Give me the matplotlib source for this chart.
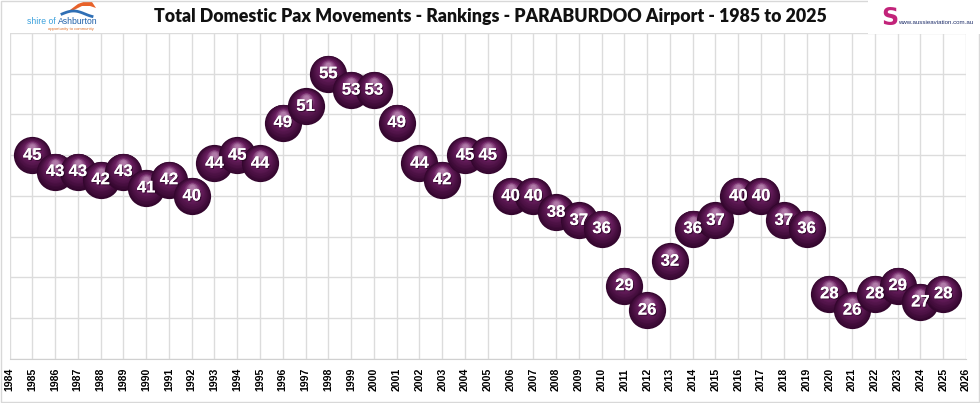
import numpy as np
import matplotlib.pyplot as plt
import matplotlib.transforms as mtransforms
import matplotlib.patheffects as pe
from matplotlib.colors import to_rgb

years = list(range(1985, 2026))
ranks = [45, 43, 43, 42, 43, 41, 42, 40, 44, 45, 44, 49, 51, 55, 53, 53, 49, 44, 42, 45,
         45, 40, 40, 38, 37, 36, 29, 26, 32, 36, 37, 40, 40, 37, 36, 28, 26, 28, 29, 27, 28]
tick_years = list(range(1984, 2027))

title = "Total Domestic Pax Movements - Rankings - PARABURDOO Airport - 1985 to 2025"

plt.rcParams['font.family'] = ['Liberation Sans', 'DejaVu Sans']

W, H = 980, 403
fig = plt.figure(figsize=(9.8, 4.03), dpi=100)
ax = fig.add_axes([0.0097, 0.1092, 0.9760, 0.8090])

ax.set_xlim(1984, 2026)
ax.set_ylim(20, 60)
ax.set_xticks(tick_years)
ax.set_xticklabels([str(y) for y in tick_years], rotation=90, fontsize=7.6, fontweight='bold')
ax.set_yticks(np.arange(20, 61, 5))
ax.set_yticklabels([])
ax.tick_params(axis='both', length=0)
ax.tick_params(axis='x', pad=6.5)
ax.grid(True, color='#dcdcdc', linewidth=1.0)
ax.set_axisbelow(True)
for s in ['top', 'right', 'left']:
    ax.spines[s].set_visible(False)
ax.spines['bottom'].set_color('#d0d0d0')

# sphere shading: stacked circles, dark rim to lighter top highlight
dark = np.array(to_rgb('#34062e'))
mid = np.array(to_rgb('#6a1f60'))
light = np.array(to_rgb('#b07aa8'))
R = 13.4  # radius in points
n_layers = 16
for i, (yr, rk) in enumerate(zip(years, ranks)):
    z = 3 + i * 0.02
    for k in range(n_layers):
        t = k / (n_layers - 1)
        r = R * (1 - 0.85 * t)
        dy = (R - r) * 0.55
        if t < 0.6:
            u = t / 0.6
            col = dark * (1 - u) + mid * u
        else:
            u = (t - 0.6) / 0.4
            col = mid * (1 - u) + light * u
        tr = mtransforms.offset_copy(ax.transData, fig=fig, x=0, y=dy, units='points')
        ax.scatter([yr], [rk], s=(2 * r) ** 2, color=col, linewidths=0,
                   transform=tr, zorder=z + 0.0005 * k)

for yr, rk in zip(years, ranks):
    ax.text(yr, rk, str(rk), color='white', fontsize=12, fontweight='bold',
            ha='center', va='center', zorder=10,
            path_effects=[pe.withSimplePatchShadow(offset=(0.8, -0.8), shadow_rgbFace='#1a0016', alpha=0.6),
                          pe.Normal()])

fig.text(0.5, 0.958, title, ha='center', va='center', fontsize=12.8, fontweight='heavy',
         family=['Lato', 'DejaVu Sans'], color='#111111')

# left logo (shire of Ashburton)
sx = np.linspace(62, 92, 40)
sy = 14 - 3 * np.sin((sx - 62) / 30 * np.pi * 1.3)
fig.lines.append(plt.Line2D(sx / W, 1 - sy / H, transform=fig.transFigure,
                            color='#2f6fb5', linewidth=2.0))
ox = [70, 78, 86, 92, 96, 90, 82, 74]
oy = [10, 4, 1, 2, 8, 6, 6, 10]
fig.patches.append(plt.Polygon(np.column_stack([np.array(ox) / W, 1 - np.array(oy) / H]),
                               transform=fig.transFigure, color='#e8622a', linewidth=0))
fig.text(27 / W, 1 - 22 / H, "shire of", ha='left', va='center', fontsize=6.2, color='#3aa0dc')
fig.text(58 / W, 1 - 22 / H, "Ashburton", ha='left', va='center', fontsize=6.2, color='#1d5fa8')
fig.text(48 / W, 1 - 29 / H, "opportunity to community", ha='left', va='center', fontsize=3.0,
         color='#e0702a')

# right logo (aussieaviation)
fig.patches.append(plt.Rectangle((868 / W, 1 - 34 / H), 112 / W, 34 / H, transform=fig.transFigure,
                                 facecolor='white', edgecolor='none', zorder=2))
fig.text(890 / W, 1 - 18 / H, "S", ha='center', va='center', fontsize=17, fontweight='bold',
         color='#c2237a', family=['DejaVu Sans'], zorder=3)
fig.text(898 / W, 1 - 22 / H, "www.aussieaviation.com.au", ha='left', va='center', fontsize=4.4,
         color='#1f2f6a', zorder=3)

fig.patches.append(plt.Rectangle((0.001, 0.002), 0.998, 0.996, transform=fig.transFigure,
                                 fill=False, edgecolor='#d8d8d8', linewidth=1.0))

fig.savefig('out.png', dpi=100)
